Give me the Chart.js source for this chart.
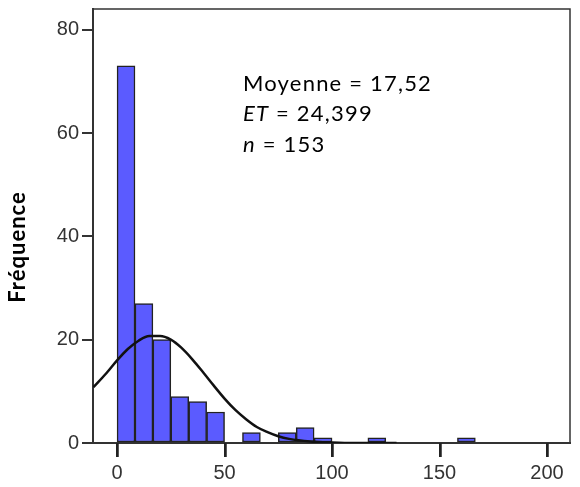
<!DOCTYPE html>
<html>
<head>
<meta charset="utf-8">
<script src="https://cdn.jsdelivr.net/npm/chart.js@4.4.1/dist/chart.umd.min.js"></script>
<style>
  html, body { margin: 0; padding: 0; background: #fff; }
  #wrap { width: 580px; height: 487px; position: relative; }
</style>
</head>
<body>
<div id="wrap"><canvas id="histChart"></canvas></div>
<script>
// histogram bins (left edge of each bin) and counts
const binWidth = 8.333;
const binStarts = [0, 8.333, 16.667, 25, 33.333, 41.667, 50, 58.333, 66.667, 75,
                   83.333, 91.667, 100, 108.333, 116.667, 125, 133.333, 141.667, 150, 158.333];
const counts = [73, 27, 20, 9, 8, 6, 0, 2, 0, 2, 3, 1, 0, 0, 1, 0, 0, 0, 0, 1];

// normal curve
const curveX = [-11, -5, 0, 5, 10, 15, 20, 25, 30, 35, 40, 45, 50, 55, 60, 65, 70, 75, 80, 90, 100, 110, 130];
const curveY = [10.8, 13.5, 16, 18.2, 19.8, 20.7, 20.7, 20, 18.4, 16.2, 13.7, 11.1, 8.6, 6.4, 4.6, 3.1, 2.1, 1.3, 0.8, 0.3, 0.1, 0, 0];

const xTicks = [0, 50, 100, 150, 200];
const yTicks = [0, 20, 40, 60, 80];

const statLines = [
  { italic: "", rest: "Moyenne = 17,52" },
  { italic: "ET", rest: " = 24,399" },
  { italic: "n", rest: " = 153" }
];
const yTitle = "Fréquence";

const barData = binStarts.map((s, i) => ({ x: s + binWidth / 2, y: counts[i] > 0 ? counts[i] : null }));
const curveData = curveX.map((x, i) => ({ x: x, y: curveY[i] }));

const tickFont = { family: "'Liberation Sans', Arial, sans-serif", size: 20 };
const axisColor = "#333";

function drawXTicks(chart) {
  const ctx = chart.ctx;
  const a = chart.chartArea;
  const xs = chart.scales.x;
  ctx.save();
  ctx.fillStyle = "#222";
  xTicks.forEach(v => {
    const px = Math.round(xs.getPixelForValue(v));
    ctx.fillRect(px - 1, a.bottom, 2.5, 14);
  });
  ctx.restore();
}

const decorations = {
  id: "decorations",
  afterDatasetsDraw(chart) {
    drawXTicks(chart);
  },
  afterDraw(chart) {
    const ctx = chart.ctx;
    const a = chart.chartArea;
    drawXTicks(chart);
    ctx.save();
    ctx.strokeStyle = axisColor;
    ctx.lineWidth = 1.5;
    // frame top + right
    ctx.beginPath();
    ctx.moveTo(a.left, a.top);
    ctx.lineTo(a.right, a.top);
    ctx.lineTo(a.right, a.bottom);
    ctx.stroke();

    // stats text
    ctx.fillStyle = "#000";
    ctx.textBaseline = "alphabetic";
    ctx.letterSpacing = "1.2px";
    let y = 90.5;
    statLines.forEach(l => {
      let x = 243;
      if (l.italic) {
        ctx.font = "italic 22px Lato";
        ctx.fillText(l.italic, x, y);
        x += ctx.measureText(l.italic).width;
      }
      ctx.font = "22px Lato";
      ctx.fillText(l.rest, x, y);
      y += 30.5;
    });

    // y title
    ctx.letterSpacing = "1px";
    ctx.translate(18, 247);
    ctx.rotate(-Math.PI / 2);
    ctx.textAlign = "center";
    ctx.textBaseline = "middle";
    ctx.font = "bold 22px Lato";
    ctx.fillText(yTitle, 0, 0);
    ctx.letterSpacing = "0px";
    ctx.restore();
  }
};

const ctx = document.getElementById("histChart").getContext("2d");

let chart = new Chart(ctx, {
  type: "bar",
  data: {
    datasets: [{
      type: "line",
      data: curveData,
      borderColor: "#111",
      borderWidth: 2.5,
      pointRadius: 0,
      tension: 0.4,
      cubicInterpolationMode: "monotone",
      order: 0
    }, {
      type: "bar",
      data: barData,
      backgroundColor: "#5b5bff",
      borderColor: "#222",
      borderWidth: 1.5,
      borderSkipped: false,
      barPercentage: 1,
      categoryPercentage: 1,
      order: 1
    }]
  },
  options: {
    responsive: true,
    maintainAspectRatio: false,
    animation: false,
    layout: { padding: { top: 9, right: 10, left: 0, bottom: 0 } },
    plugins: { legend: { display: false }, tooltip: { enabled: false } },
    scales: {
      x: {
        type: "linear",
        offset: false,
        min: -11.2,
        max: 210.7,
        afterBuildTicks: s => { s.ticks = xTicks.map(v => ({ value: v })); },
        afterFit: s => { s.height = 44; s.paddingLeft = 0; s.paddingRight = 0; },
        grid: { offset: false, drawOnChartArea: false, drawTicks: true, tickLength: 14, color: axisColor, lineWidth: 2 },
        border: { color: axisColor, width: 2 },
        ticks: { color: "#333", font: tickFont, padding: 4, maxRotation: 0, autoSkip: false }
      },
      y: {
        min: 0,
        max: 84,
        afterBuildTicks: s => { s.ticks = yTicks.map(v => ({ value: v })); },
        afterFit: s => { s.width = 93; s.paddingTop = 0; s.paddingBottom = 0; },
        grid: { drawOnChartArea: false, drawTicks: true, tickLength: 11, color: axisColor, lineWidth: 2 },
        border: { color: axisColor, width: 2 },
        ticks: { color: "#333", font: tickFont, padding: 3 }
      }
    }
  },
  plugins: [decorations]
});
</script>
</body>
</html>
